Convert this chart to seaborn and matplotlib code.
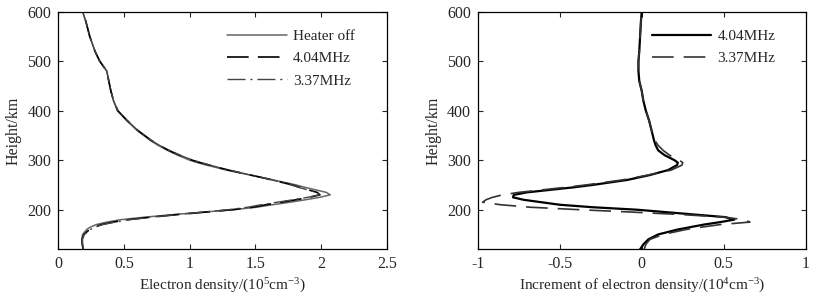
import numpy as np
import pandas as pd
import seaborn as sns
import matplotlib.pyplot as plt

# Heights (km) shared by all profiles
height = [120, 130, 140, 150, 160, 165, 170, 175, 180, 185, 190, 195, 200, 205,
          210, 215, 220, 225, 230, 235, 240, 245, 250, 260, 270, 280, 290, 295,
          300, 310, 320, 330, 340, 360, 380, 400, 420, 440, 460, 480, 500, 520,
          550, 580, 600]

# Electron density (1e5 cm^-3)
dens_off = [0.190, 0.182, 0.178, 0.185, 0.216, 0.245, 0.290, 0.370, 0.480, 0.660,
            0.870, 1.100, 1.330, 1.510, 1.630, 1.760, 1.880, 1.990, 2.070, 2.040,
            1.960, 1.880, 1.810, 1.640, 1.460, 1.280, 1.130, 1.060, 1.000, 0.910,
            0.830, 0.760, 0.700, 0.600, 0.520, 0.450, 0.420, 0.400, 0.385, 0.370,
            0.317, 0.280, 0.240, 0.210, 0.185]
dens_404 = [0.189, 0.183, 0.182, 0.195, 0.238, 0.275, 0.328, 0.418, 0.537, 0.711,
            0.903, 1.115, 1.327, 1.480, 1.580, 1.699, 1.808, 1.912, 1.992, 1.970,
            1.904, 1.838, 1.780, 1.631, 1.465, 1.296, 1.152, 1.082, 1.020, 0.924,
            0.840, 0.769, 0.708, 0.606, 0.525, 0.453, 0.421, 0.400, 0.384, 0.368,
            0.315, 0.279, 0.239, 0.210, 0.185]
dens_337 = [0.192, 0.185, 0.183, 0.198, 0.243, 0.282, 0.338, 0.436, 0.542, 0.710,
            0.895, 1.095, 1.292, 1.442, 1.544, 1.663, 1.785, 1.899, 1.985, 1.965,
            1.899, 1.833, 1.776, 1.628, 1.464, 1.298, 1.155, 1.085, 1.023, 0.927,
            0.843, 0.770, 0.708, 0.606, 0.525, 0.453, 0.421, 0.400, 0.384, 0.368,
            0.315, 0.279, 0.239, 0.210, 0.185]

# Increment of electron density (1e4 cm^-3)
inc_404 = [-0.010, 0.010, 0.040, 0.100, 0.220, 0.300, 0.380, 0.480, 0.565, 0.510,
           0.330, 0.150, -0.030, -0.300, -0.500, -0.610, -0.720, -0.785, -0.780, -0.700,
           -0.560, -0.420, -0.300, -0.090, 0.050, 0.160, 0.215, 0.220, 0.200, 0.140,
           0.100, 0.085, 0.075, 0.060, 0.045, 0.025, 0.010, 0.000, -0.015, -0.020,
           -0.020, -0.015, -0.010, -0.005, 0.000]
inc_337 = [0.015, 0.025, 0.050, 0.130, 0.270, 0.370, 0.480, 0.660, 0.620, 0.500,
           0.250, -0.050, -0.380, -0.680, -0.860, -0.970, -0.950, -0.910, -0.850, -0.750,
           -0.610, -0.470, -0.340, -0.120, 0.040, 0.180, 0.245, 0.250, 0.230, 0.170,
           0.130, 0.100, 0.080, 0.060, 0.045, 0.025, 0.010, 0.000, -0.015, -0.020,
           -0.020, -0.015, -0.010, -0.005, 0.000]

sns.set_style('ticks')
plt.rcParams['font.family'] = ['Liberation Serif', 'DejaVu Serif']
plt.rcParams['mathtext.fontset'] = 'custom'
plt.rcParams['mathtext.rm'] = 'Liberation Serif'
plt.rcParams['mathtext.it'] = 'Liberation Serif'
plt.rcParams['font.size'] = 11

fig = plt.figure(figsize=(8.2, 3.02), dpi=100)
ax1 = fig.add_axes([0.0711, 0.1745, 0.4005, 0.7868])
ax2 = fig.add_axes([0.5826, 0.1745, 0.4000, 0.7868])

# left panel: density profiles
sns.lineplot(x=dens_off, y=height, sort=False, estimator=None, ax=ax1,
             color='#666666', lw=1.1, label='Heater off')
sns.lineplot(x=dens_404, y=height, sort=False, estimator=None, ax=ax1,
             color='black', lw=1.2, linestyle=(0, (13, 5.5)), label='4.04MHz')
sns.lineplot(x=dens_337, y=height, sort=False, estimator=None, ax=ax1,
             color='#444444', lw=1.0, linestyle=(0, (13, 3.5, 1.5, 3.5)), label='3.37MHz')
ax1.set_xlim(0, 2.5)
ax1.set_xticks([0, 0.5, 1, 1.5, 2, 2.5])
ax1.set_xticklabels(['0', '0.5', '1', '1.5', '2', '2.5'])
ax1.set_xlabel(r'Electron density/(10$^{5}$cm$^{-3}$)', fontsize=11, labelpad=3)

# right panel: increments
sns.lineplot(x=inc_404, y=height, sort=False, estimator=None, ax=ax2,
             color='black', lw=1.6, label='4.04MHz')
sns.lineplot(x=inc_337, y=height, sort=False, estimator=None, ax=ax2,
             color='#333333', lw=1.2, linestyle=(0, (13, 6)), label='3.37MHz')
ax2.set_xlim(-1, 1)
ax2.set_xticks([-1, -0.5, 0, 0.5, 1])
ax2.set_xticklabels(['-1', '-0.5', '0', '0.5', '1'])
ax2.set_xlabel(r'Increment of electron density/(10$^{4}$cm$^{-3}$)', fontsize=11, labelpad=3)

for ax in (ax1, ax2):
    ax.set_ylim(120, 600)
    ax.set_yticks([200, 300, 400, 500, 600])
    ax.set_ylabel('Height/km', fontsize=11.5, labelpad=4)
    ax.tick_params(direction='in', top=True, right=True, length=3.5, width=0.8,
                   labelsize=11.5, pad=5)
    for s in ax.spines.values():
        s.set_linewidth(0.9)
        s.set_color('black')

ax1.legend(loc='upper left', bbox_to_anchor=(0.514, 0.925), frameon=False,
           fontsize=11, handlelength=3.9, handletextpad=0.4, labelspacing=0.56,
           borderpad=0, borderaxespad=0)
ax2.legend(loc='upper left', bbox_to_anchor=(0.530, 0.925), frameon=False,
           fontsize=11, handlelength=3.9, handletextpad=0.4, labelspacing=0.56,
           borderpad=0, borderaxespad=0)

plt.savefig('out.png', dpi=100)
